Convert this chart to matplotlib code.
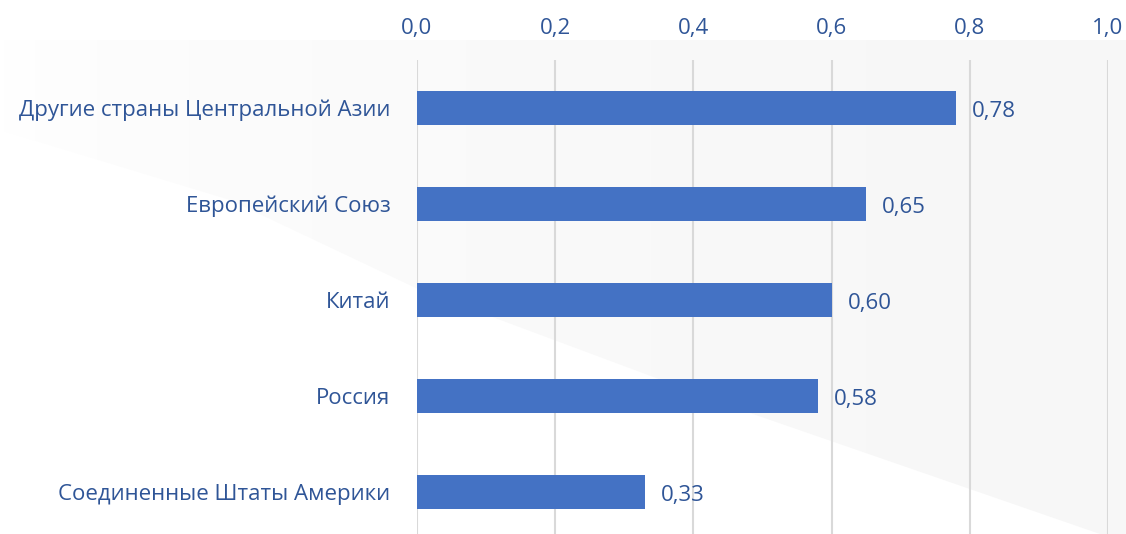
import numpy as np
import matplotlib.pyplot as plt
from matplotlib.patches import Polygon

categories = ['Другие страны Центральной Азии', 'Европейский Союз', 'Китай',
              'Россия', 'Соединенные Штаты Америки']
values = [0.78, 0.65, 0.60, 0.58, 0.33]
ticks = [0.0, 0.2, 0.4, 0.6, 0.8, 1.0]

text_col = '#2F5597'
bar_col = '#4472C4'

plt.rcParams['font.family'] = ['Open Sans', 'DejaVu Sans']

fig = plt.figure(figsize=(11.26, 5.34), dpi=100)

# faint grey background shape
bg = fig.add_axes([0, 0, 1, 1], zorder=0)
bg.set_xlim(0, 1126)
bg.set_ylim(534, 0)
bg.axis('off')
grad = np.linspace(0, 1, 256)[None, :] ** 0.5
img = bg.imshow(grad, extent=[0, 1126, 534, 0], cmap='Greys', vmin=0, vmax=15,
                aspect='auto', zorder=0)
poly = Polygon([(0, 40), (1126, 40), (1126, 534), (1100, 534), (750, 413),
                (420, 290), (230, 200), (0, 130)], closed=True,
               transform=bg.transData, facecolor='none', edgecolor='none')
bg.add_patch(poly)
img.set_clip_path(poly)

ax = fig.add_axes([417 / 1126, 0, (1108 - 417) / 1126, 474 / 534], zorder=1)
ax.patch.set_alpha(0)
y = np.arange(len(categories))
ax.barh(y, values, height=0.35, color=bar_col, zorder=3)
for yi, v in zip(y, values):
    ax.text(v + 0.023, yi + 0.04, f'{v:.2f}'.replace('.', ','), va='center',
            ha='left', fontsize=16, color=text_col, zorder=4)

ax.set_xlim(0, 1.0)
ax.set_ylim(4.44, -0.5)
ax.set_xticks(ticks)
ax.set_xticklabels([f'{t:.1f}'.replace('.', ',') for t in ticks])
ax.set_yticks(y)
ax.set_yticklabels(categories)
ax.xaxis.tick_top()
ax.tick_params(axis='x', length=0, pad=15, labelsize=16, labelcolor=text_col)
ax.tick_params(axis='y', length=0, pad=19, labelsize=16, labelcolor=text_col)
ax.grid(axis='x', color='#D9D9D9', linewidth=1.5, zorder=0)
for s in ax.spines.values():
    s.set_visible(False)

fig.savefig('out.png', dpi=100)
